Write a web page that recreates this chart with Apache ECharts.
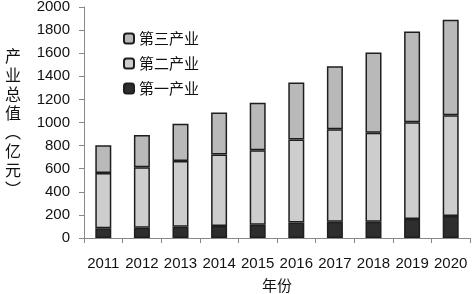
<!DOCTYPE html>
<html>
<head>
<meta charset="utf-8">
<script src="https://cdn.jsdelivr.net/npm/echarts@6/dist/echarts.min.js"></script>
<style>
  html, body { margin: 0; padding: 0; background: #fff; }
  #main { width: 472px; height: 294px; }
</style>
</head>
<body>
<div id="main"></div>
<script>
var years = ['2011', '2012', '2013', '2014', '2015', '2016', '2017', '2018', '2019', '2020'];
var primary = [84, 89, 97, 103, 115, 135, 141, 141, 164, 190];
var secondary = [479, 523, 569, 621, 644, 718, 801, 770, 839, 873];
var tertiary = [239, 279, 323, 362, 411, 494, 544, 695, 784, 827];

var chart = echarts.init(document.getElementById('main'));
var font = '"Liberation Sans", "Noto Sans CJK SC", sans-serif';
var cjk = '"Noto Sans CJK SC", sans-serif';
var border = { borderColor: '#1e1e1e', borderWidth: 1.5 };

var option = {
  animation: false,
  textStyle: { fontFamily: font },
  grid: { left: 84, right: 2, top: 7, bottom: 56, outerBoundsMode: 'none', containLabel: false },
  legend: {
    orient: 'vertical',
    left: 118,
    top: 26,
    itemGap: 10,
    itemWidth: 10,
    itemHeight: 10,
    textStyle: { fontSize: 15, color: '#111', fontFamily: cjk },
    data: ['第三产业', '第二产业', '第一产业']
  },
  xAxis: {
    type: 'category',
    data: years,
    name: '年份',
    nameLocation: 'middle',
    nameGap: 40,
    nameTextStyle: { fontSize: 15, color: '#111', fontFamily: cjk },
    axisLine: { lineStyle: { color: '#888' } },
    axisTick: { show: true, length: 5, lineStyle: { color: '#888' } },
    axisLabel: { fontSize: 15, color: '#111', margin: 18, interval: 0 }
  },
  yAxis: {
    type: 'value',
    min: 0,
    max: 2000,
    interval: 200,
    name: ['产', '业', '总', '值', '︵', '亿', '元', '︶'].join('\n'),
    nameLocation: 'middle',
    nameRotate: 0,
    nameGap: 63,
    nameTextStyle: { fontSize: 16, color: '#111', lineHeight: 19, fontFamily: cjk },
    axisLine: { show: true, lineStyle: { color: '#888' } },
    axisTick: { show: true, length: 5, lineStyle: { color: '#888' } },
    splitLine: { show: false },
    axisLabel: {
      fontSize: 15, color: '#111', margin: 14,
      formatter: function (v) { return String(v); }
    }
  },
  series: [
    {
      name: '第一产业', type: 'bar', stack: 'total', barWidth: 16,
      itemStyle: Object.assign({ color: '#2e2e2e' }, border),
      data: primary
    },
    {
      name: '第二产业', type: 'bar', stack: 'total', barWidth: 16,
      itemStyle: Object.assign({ color: '#cdcdcd' }, border),
      data: secondary
    },
    {
      name: '第三产业', type: 'bar', stack: 'total', barWidth: 16,
      itemStyle: Object.assign({ color: '#b9b9b9' }, border),
      data: tertiary
    }
  ]
};

chart.setOption(option);
</script>
</body>
</html>
